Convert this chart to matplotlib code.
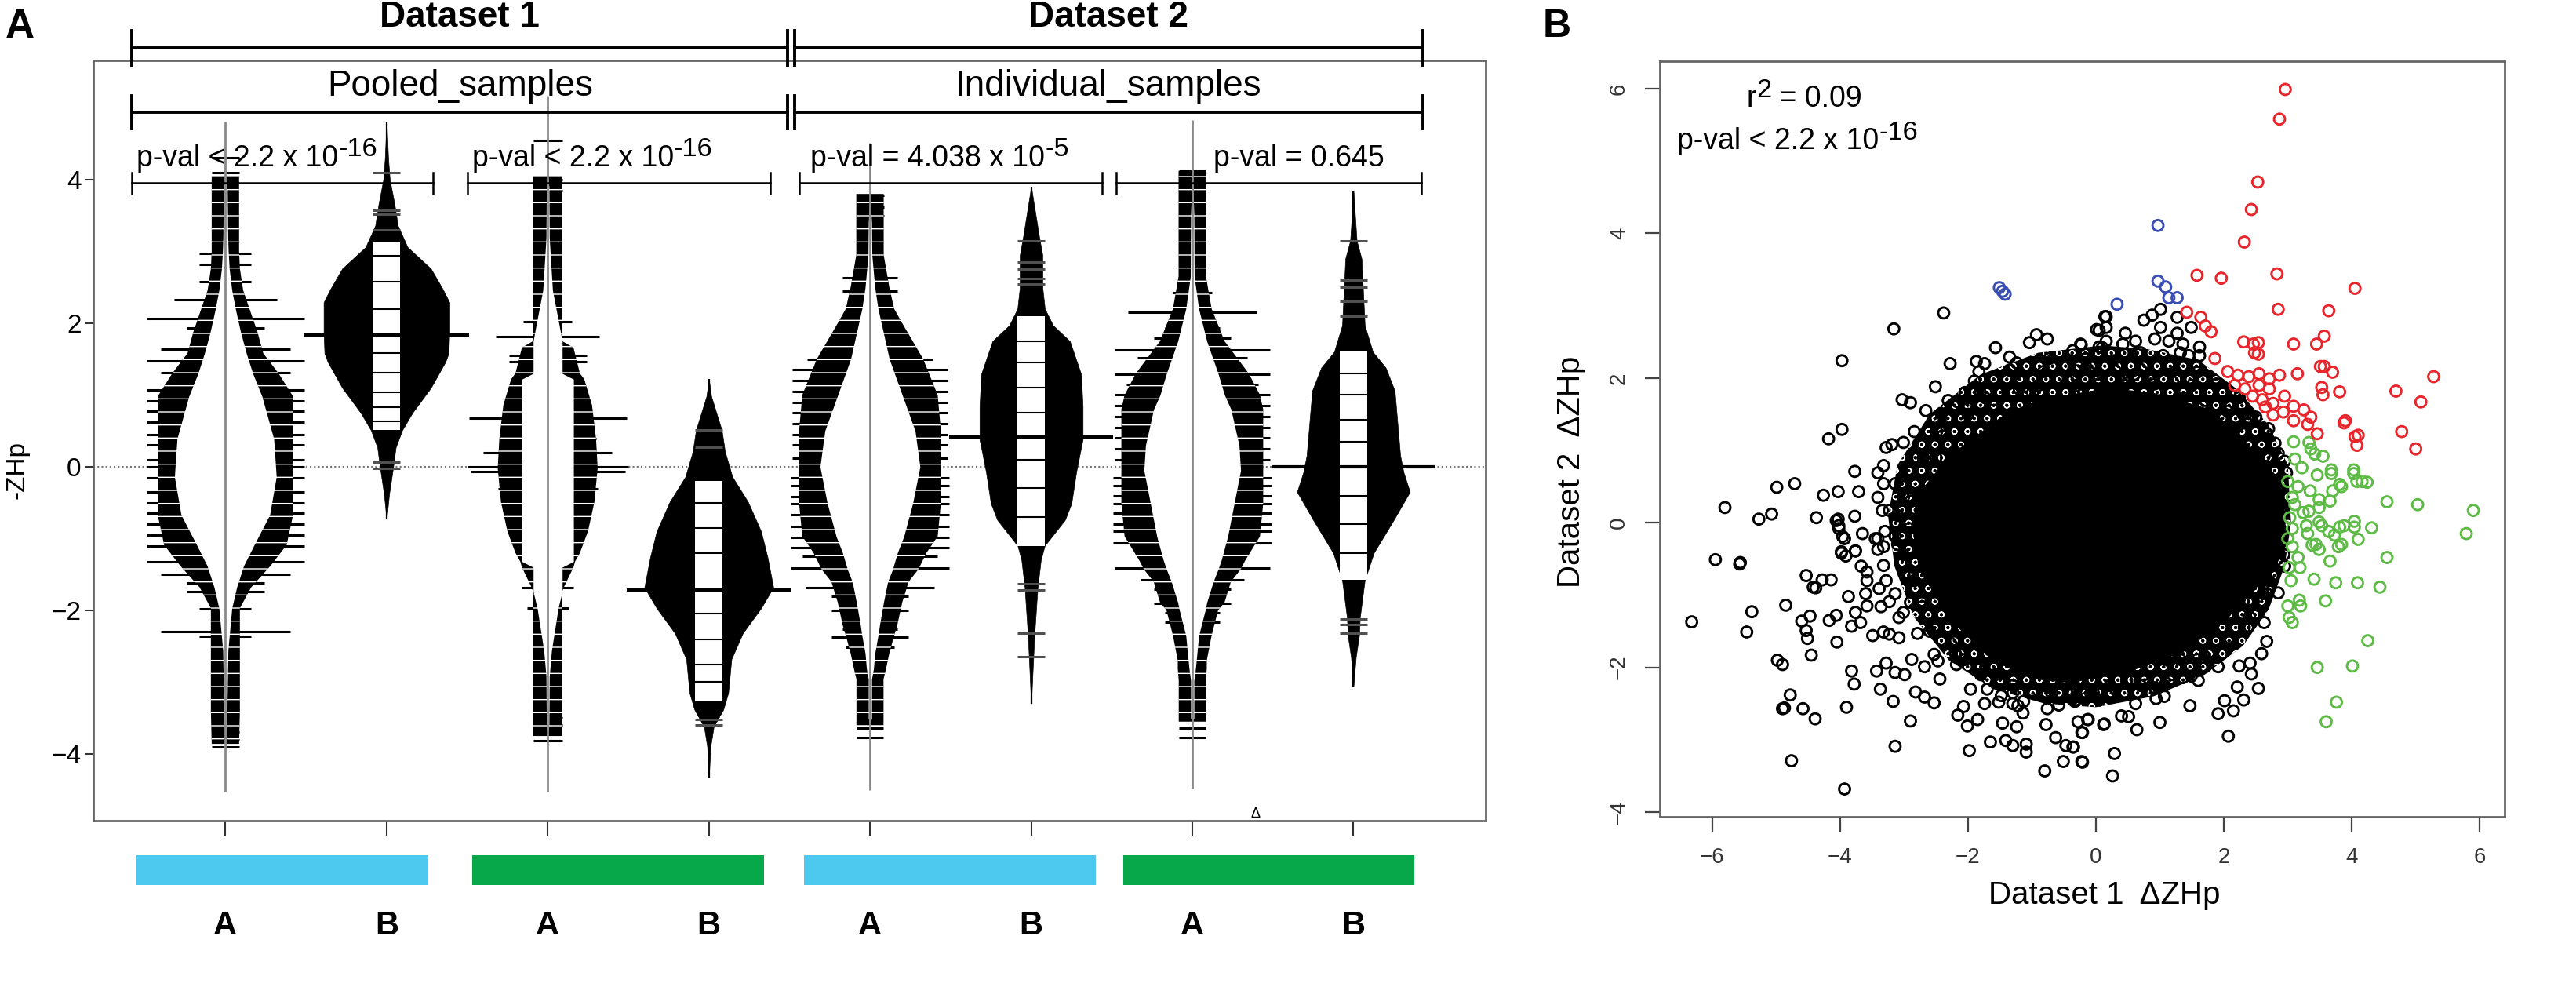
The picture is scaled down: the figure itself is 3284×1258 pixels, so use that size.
import numpy as np
import matplotlib
matplotlib.use("Agg")
import matplotlib.pyplot as plt
from matplotlib.patches import Rectangle, Polygon

plt.rcParams['font.family'] = ['Liberation Sans', 'DejaVu Sans']
plt.rcParams['hatch.color'] = 'white'
plt.rcParams['hatch.linewidth'] = 1.0

# ---------------- panel A data (beanplot) ----------------
bean_pos = [1, 2, 3, 4, 5, 6, 7, 8]
bean_labels = ['A', 'B', 'A', 'B', 'A', 'B', 'A', 'B']
bar_spans = [(0.45, 2.26), (2.53, 4.34), (4.59, 6.40), (6.57, 8.38)]
bar_colors = ['#4DC9F0', '#07A84A', '#4DC9F0', '#07A84A']
pval_base = ['p-val < 2.2 x 10', 'p-val < 2.2 x 10', 'p-val = 4.038 x 10', 'p-val = 0.645']
pval_sup = ['-16', '-16', '-5', '']
pval_x = [0.45, 2.53, 4.63, 7.13]
pval_brackets = [(0.42, 2.29), (2.50, 4.38), (4.56, 6.44), (6.53, 8.42)]
group_brackets = [(0.42, 4.49), (4.53, 8.43)]
dataset_names = ['Dataset 1', 'Dataset 2']
sample_names = ['Pooled_samples', 'Individual_samples']

# hollow "A" beans: y, inner white lens half width, outer black half width
a1_y = [4.05, 3.86, 3.2, 3.0, 2.76, 2.46, 2.17, 1.87, 1.58, 1.3, 0.98, 0.39, -0.14, -0.67, -1.09, -1.38, -1.68, -1.97, -2.56, -3.4, -3.86]
a1_lens = [0, 0.012, 0.015, 0.018, 0.024, 0.04, 0.065, 0.095, 0.13, 0.17, 0.227, 0.30, 0.316, 0.275, 0.178, 0.113, 0.07, 0.04, 0.016, 0.01, 0]
a1_outer = [0.085, 0.085, 0.085, 0.085, 0.09, 0.11, 0.154, 0.20, 0.235, 0.33, 0.42, 0.42, 0.42, 0.42, 0.38, 0.28, 0.16, 0.09, 0.09, 0.09, 0.085]
a1_range = (-4.52, 4.81)
a1_lines = [(4.3, 0.085), (4.1, 0.085), (2.97, 0.16), (2.82, 0.16), (2.58, 0.16), (2.33, 0.32), (2.06, 0.49),
            (1.93, 0.24), (1.64, 0.40), (1.47, 0.49), (1.31, 0.40), (1.07, 0.49), (0.92, 0.49), (0.78, 0.49),
            (0.62, 0.49), (0.45, 0.49), (0.3, 0.49), (0.1, 0.49), (0.0, 0.49), (-0.15, 0.49), (-0.35, 0.49),
            (-0.5, 0.49), (-0.65, 0.49), (-0.8, 0.49), (-0.95, 0.49), (-1.1, 0.49), (-1.32, 0.49), (-1.5, 0.40),
            (-1.62, 0.24), (-1.74, 0.24), (-1.98, 0.16), (-2.3, 0.40), (-2.36, 0.16), (-3.7, 0.085), (-3.8, 0.085),
            (-3.9, 0.085)]

a3_y = [4.05, 3.9, 3.2, 3.12, 2.46, 1.99, 1.75, 1.66, 1.3, 1.22, 0.86, 0.39, -0.02, -0.49, -0.9, -1.2, -1.32, -1.4, -1.68, -1.74, -1.97, -2.56, -2.92, -3.6, -3.75]
a3_lens = [0, 0.008, 0.01, 0.012, 0.03, 0.07, 0.09, 0.09, 0.09, 0.16, 0.16, 0.16, 0.16, 0.16, 0.16, 0.16, 0.16, 0.09, 0.09, 0.09, 0.065, 0.024, 0.01, 0.008, 0]
a3_outer = [0.09, 0.09, 0.09, 0.09, 0.09, 0.09, 0.09, 0.16, 0.2, 0.227, 0.275, 0.30, 0.31, 0.29, 0.25, 0.2, 0.17, 0.16, 0.1, 0.09, 0.09, 0.09, 0.09, 0.09, 0.09]
a3_range = (-4.52, 5.17)
a3_lines = [(4.55, 0.09), (4.0, 0.09), (3.85, 0.09), (2.02, 0.15), (1.81, 0.32), (1.55, 0.24), (1.46, 0.24),
            (0.68, 0.49), (0.39, 0.30), (0.2, 0.40), (0.0, 0.50), (-0.07, 0.48), (-0.31, 0.31), (-0.9, 0.24),
            (-1.08, 0.21), (-1.68, 0.16), (-1.97, 0.13), (-3.5, 0.09), (-3.6, 0.09), (-3.82, 0.09)]

a5_y = [3.8, 3.4, 2.95, 2.5, 2.2, 2.0, 1.5, 1.0, 0.5, 0.0, -0.51, -0.97, -1.2, -1.43, -1.6, -1.89, -2.2, -2.35, -2.6, -2.81, -2.96, -3.5, -3.6]
a5_lens = [0, 0.01, 0.012, 0.03, 0.05, 0.07, 0.12, 0.2, 0.28, 0.31, 0.265, 0.21, 0.17, 0.14, 0.11, 0.084, 0.06, 0.05, 0.03, 0.022, 0.01, 0.01, 0]
a5_outer = [0.085, 0.085, 0.085, 0.12, 0.15, 0.2, 0.33, 0.42, 0.44, 0.44, 0.44, 0.42, 0.35, 0.3, 0.24, 0.2, 0.17, 0.15, 0.12, 0.1, 0.084, 0.084, 0.084]
a5_range = (-4.5, 4.51)
a5_lines = [(3.78, 0.085), (3.62, 0.085), (3.5, 0.085), (2.63, 0.17), (2.45, 0.17), (2.15, 0.15), (1.97, 0.17),
            (1.66, 0.24), (1.5, 0.39), (1.35, 0.48), (1.2, 0.48), (1.05, 0.48), (0.9, 0.48), (0.75, 0.48),
            (0.6, 0.48), (0.45, 0.48), (0.3, 0.48), (0.12, 0.48), (-0.15, 0.49), (-0.26, 0.49), (-0.42, 0.49),
            (-0.51, 0.49), (-0.67, 0.49), (-0.83, 0.49), (-0.99, 0.49), (-1.13, 0.49), (-1.25, 0.42), (-1.41, 0.49),
            (-1.57, 0.24), (-1.68, 0.40), (-1.8, 0.24), (-2.0, 0.24), (-2.26, 0.17), (-2.37, 0.24), (-2.51, 0.15),
            (-3.64, 0.084), (-3.77, 0.084)]

a7_y = [4.12, 3.51, 2.65, 2.2, 1.75, 1.3, 1.0, 0.8, 0.3, -0.05, -0.51, -0.97, -1.3, -1.43, -1.6, -1.89, -2.0, -2.35, -2.7, -2.81, -2.98, -3.5, -3.55]
a7_lens = [0, 0.01, 0.012, 0.04, 0.09, 0.16, 0.2, 0.24, 0.29, 0.30, 0.26, 0.22, 0.18, 0.16, 0.13, 0.09, 0.08, 0.04, 0.025, 0.02, 0.01, 0.01, 0]
a7_outer = [0.085, 0.085, 0.085, 0.12, 0.2, 0.35, 0.42, 0.44, 0.44, 0.44, 0.44, 0.42, 0.33, 0.3, 0.24, 0.2, 0.16, 0.12, 0.09, 0.09, 0.084, 0.084, 0.084]
a7_range = (-4.48, 4.83)
a7_lines = [(4.12, 0.085), (4.03, 0.085), (3.92, 0.085), (3.78, 0.085), (3.62, 0.085), (2.65, 0.085), (2.43, 0.12),
            (2.15, 0.40), (1.93, 0.17), (1.79, 0.24), (1.63, 0.48), (1.52, 0.34), (1.29, 0.48), (1.15, 0.41),
            (1.0, 0.48), (0.85, 0.48), (0.7, 0.48), (0.55, 0.48), (0.4, 0.48), (0.25, 0.48), (0.1, 0.48),
            (-0.15, 0.49), (-0.26, 0.49), (-0.4, 0.49), (-0.51, 0.49), (-0.65, 0.49), (-0.8, 0.49), (-0.9, 0.49),
            (-1.06, 0.49), (-1.25, 0.31), (-1.41, 0.48), (-1.57, 0.32), (-1.71, 0.24), (-1.9, 0.24), (-2.03, 0.17),
            (-2.17, 0.17), (-3.64, 0.084), (-3.77, 0.084)]

# solid "B" beans: y, half width, median, white beanline column, extra ticks
b2_y = [4.81, 4.3, 4.0, 3.65, 3.36, 3.06, 2.76, 2.47, 2.29, 1.87, 1.58, 1.46, 1.1, 0.75, 0.51, 0.27, -0.02, -0.38, -0.73]
b2_hw = [0.0, 0.01, 0.02, 0.05, 0.07, 0.13, 0.275, 0.35, 0.39, 0.39, 0.385, 0.365, 0.275, 0.16, 0.097, 0.057, 0.04, 0.016, 0.0]
b2_med = 1.84
b2_col = (0.51, 3.12)
b2_gaps = [2.94, 2.58, 2.2, 1.58, 1.31, 1.04, 0.83, 0.63]
b2_ticks = [4.1, 3.57, 3.52, 3.3, 0.07, -0.02]

b4_y = [1.22, 0.98, 0.51, 0.21, -0.14, -0.49, -0.9, -1.27, -1.68, -1.97, -2.32, -2.68, -3.15, -3.38, -3.62, -3.9, -4.33]
b4_hw = [0, 0.015, 0.08, 0.10, 0.146, 0.243, 0.324, 0.365, 0.40, 0.324, 0.21, 0.14, 0.12, 0.09, 0.03, 0.01, 0]
b4_med = -1.72
b4_col = (-3.27, -0.2)
b4_gaps = [-0.5, -0.85, -1.2, -2.05, -2.4, -2.75, -3.0]
b4_ticks = [0.51, 0.27, -3.52, -3.6]

b6_y = [3.9, 3.2, 2.95, 2.5, 2.2, 1.97, 1.75, 1.29, 0.84, 0.38, -0.07, -0.51, -0.74, -1.1, -1.3, -1.68, -2.35, -3.3]
b6_hw = [0, 0.05, 0.07, 0.07, 0.085, 0.136, 0.24, 0.31, 0.32, 0.32, 0.28, 0.25, 0.21, 0.084, 0.06, 0.04, 0.02, 0]
b6_med = 0.41
b6_col = (-1.1, 2.1)
b6_gaps = [1.75, 1.45, 1.1, 0.75, 0.1, -0.3, -0.7]
b6_ticks = [3.15, 2.85, 2.75, 2.62, 2.55, -1.63, -1.72, -2.32, -2.65]

b8_y = [3.85, 3.15, 2.9, 1.97, 1.6, 1.38, 1.06, 0.61, 0.16, -0.07, -0.35, -0.74, -1.2, -1.58, -2.1, -2.35, -2.65, -3.06]
b8_hw = [0, 0.02, 0.05, 0.07, 0.12, 0.2, 0.256, 0.273, 0.29, 0.31, 0.35, 0.25, 0.126, 0.07, 0.04, 0.035, 0.015, 0]
b8_med = 0.0
b8_col = (-1.58, 1.6)
b8_gaps = [1.3, 1.0, 0.65, 0.35, -0.4, -0.8, -1.2]
b8_ticks = [3.15, 2.6, 2.5, 2.3, 2.1, -2.12, -2.2, -2.32]

# ---------------- panel B data (scatter) ----------------
# outline of the fully inked core and of the dense, speckled ring around it
core_x = [0.2, 0.9, 1.8, 2.45, 2.9, 2.95, 2.9, 2.45, 2.0, 1.35, 0.5, -0.4, -0.95, -1.6, -2.25, -2.75, -2.85, -2.8, -2.3, -1.4, -0.9]
core_y = [1.85, 1.78, 1.55, 1.0, 0.55, 0.0, -0.4, -0.95, -1.35, -1.78, -2.05, -2.2, -2.15, -1.9, -1.35, -0.65, -0.1, 0.35, 0.9, 1.5, 1.68]
ring_x = [0.1, 0.8, 1.6, 2.2, 2.7, 3.0, 3.05, 2.95, 2.7, 2.3, 1.7, 0.9, 0.0, -0.8, -1.6, -2.3, -2.85, -3.15, -3.25, -3.1, -2.6, -1.8, -0.9]
ring_y = [2.45, 2.4, 2.25, 1.85, 1.35, 0.8, 0.0, -0.6, -1.2, -1.7, -2.1, -2.4, -2.55, -2.5, -2.3, -1.9, -1.3, -0.6, 0.1, 0.8, 1.5, 2.05, 2.35]

black_pts = [
    (-2.38, 2.90), (-3.16, 2.68), (-3.97, 2.24), (-2.28, 2.20), (-2.51, 1.88), (-3.03, 1.70), (-2.90, 1.66),
    (-3.97, 1.29), (-4.18, 1.16), (-1.57, 2.42), (-1.35, 2.29), (-1.24, 2.21), (-0.93, 2.60), (-0.76, 2.54),
    (-1.04, 2.49), (-0.23, 2.46), (-0.36, 2.38), (0.14, 2.85), (0.01, 2.67), (-1.87, 2.23), (-1.74, 2.20),
    (-1.83, 2.09), (-1.90, 1.96), (-1.81, 1.80), (-1.94, 1.80), (-1.54, 1.80), (-1.41, 1.98), (-1.35, 2.11),
    (-2.31, 1.69), (-2.16, 1.67), (-2.66, 1.55), (-2.42, 1.51), (-3.28, 1.04), (-3.19, 1.08), (-2.84, 1.26),
    (-3.01, 1.11), (-3.77, 0.71), (-3.41, 0.69), (-4.99, 0.49), (-4.71, 0.54), (-4.26, 0.38), (-4.03, 0.43),
    (-3.71, 0.43), (-5.80, 0.21), (-5.27, 0.05), (-5.07, 0.12), (-4.37, 0.07), (-3.77, 0.09), (-4.03, 0.05),
    (-4.02, -0.04), (-3.65, -0.15), (-3.93, -0.22), (-3.41, -0.22), (-3.30, -0.12), (-3.34, 0.17), (-3.41, 0.35),
    (-3.32, 0.54), (-3.76, -0.39), (-3.98, -0.42), (-5.95, -0.51), (-5.56, -0.55),
    (-4.53, -0.73), (-4.28, -0.79), (-4.14, -0.79), (-4.42, -0.89), (-5.38, -1.23), (-4.85, -1.14),
    (-6.32, -1.37), (-5.46, -1.51), (-4.60, -1.36), (-4.47, -1.29), (-4.53, -1.49), (-4.51, -1.60),
    (-4.17, -1.35), (-4.06, -1.28), (-4.05, -1.65), (-4.45, -1.83), (-4.98, -1.90), (-4.90, -1.96),
    (-3.87, -1.02), (-3.76, -1.24), (-3.82, -1.43), (-3.68, -1.38), (-3.82, -2.05), (-3.78, -2.23),
    (-4.78, -2.38), (-4.90, -2.57), (-4.58, -2.57), (-4.39, -2.71), (-3.90, -2.55), (-4.76, -3.29),
    (-3.93, -3.68), (-3.49, -1.56), (-3.32, -1.51), (-3.23, -1.54), (-3.08, -1.59), (-3.43, -2.05),
    (-3.28, -1.94), (-3.14, -2.07), (-2.99, -2.10), (-2.88, -1.89), (-3.37, -2.30), (-3.17, -2.47),
    (-2.82, -2.34), (-2.68, -2.41), (-2.53, -2.49), (-2.90, -2.74), (-3.14, -3.09), (-2.68, -1.99),
    (-2.47, -1.91), (-2.44, -2.16), (-2.16, -2.66), (-2.07, -2.54), (-2.01, -2.81), (-1.85, -2.72),
    (-1.96, -2.30), (-1.70, -2.30), (-1.52, -2.21), (-1.74, -2.50), (-1.52, -2.48), (-1.30, -2.50),
    (-1.22, -2.53), (-1.14, -2.63), (-1.98, -3.15), (-1.65, -3.03), (-1.46, -2.77), (-1.24, -2.82),
    (-1.41, -3.01), (-1.30, -3.08), (-1.09, -3.06), (-1.09, -3.17), (-0.78, -2.79), (-0.80, -3.43),
    (-0.63, -2.97), (-0.47, -3.08), (-0.36, -3.10), (-0.51, -3.30), (-0.21, -3.31), (-0.76, -2.57),
    (-0.58, -2.52), (-0.21, -2.90), (-0.12, -2.72), (0.12, -2.79), (-0.32, -2.45), (0.05, -2.45),
    (-3.58, -0.80), (-3.60, -0.98), (-3.58, -1.15), (-3.39, -0.91), (-3.36, -1.16), (-3.23, -1.09),
    (-3.08, -1.31), (-4.06, 0.03), (-4.02, -0.08), (-3.96, -0.19), (-3.98, -0.40), (-3.91, -0.46),
    (-3.76, -0.39), (-3.45, -0.22), (-3.32, -0.33), (-3.67, -0.60), (-3.58, -0.68), (-3.32, -0.59),
    (-3.28, -0.80), (-5.57, -0.57), (-4.87, -2.56), (-4.38, -0.90),
    (2.85, -0.97), (2.61, -0.98), (2.63, -1.38), (2.67, -1.64), (2.59, -1.81), (2.24, -1.98), (2.41, -1.94),
    (2.43, -2.09), (2.54, -2.29), (2.21, -2.27), (2.31, -2.45), (2.01, -2.46), (2.15, -2.60), (1.91, -2.64),
    (2.07, -2.95), (1.47, -2.53), (1.91, -1.99), (1.49, -1.98), (1.49, -2.12), (1.60, -2.18), (1.00, -2.76),
    (1.07, -2.25), (1.07, -2.40), (0.94, -2.43), (0.62, -2.50), (0.64, -2.86), (0.40, -2.67), (0.51, -2.68),
    (0.13, -2.78), (0.29, -3.19), (0.26, -3.50), (-0.22, -3.30), (-0.35, -3.10), (-0.13, -2.72),
    (-0.22, -2.90), (-0.28, -2.75), (0.05, -2.45), (-0.33, -2.47),
    (1.01, 2.95), (0.16, 2.85), (0.88, 2.87), (0.75, 2.80), (1.27, 2.84), (0.05, 2.66), (0.16, 2.70),
    (0.46, 2.62), (-0.24, 2.47), (0.05, 2.43), (0.16, 2.51), (0.42, 2.47), (1.01, 2.70), (1.27, 2.62),
    (1.49, 2.70), (0.92, 2.54), (1.14, 2.51), (1.36, 2.47), (1.62, 2.43), (0.70, 2.35), (1.05, 2.31),
    (1.32, 2.35), (1.62, 2.31),
    (-0.6, 2.0), (-0.3, 2.1), (0.0, 2.2), (0.3, 2.1), (0.6, 2.05), (0.9, 2.0), (1.2, 1.95), (1.5, 1.9),
    (1.8, 1.8), (2.1, 1.6), (-0.9, 1.9), (-1.2, 1.85), (-1.6, 1.7), (-2.0, 1.5), (-2.4, 1.2), (-2.7, 0.9),
    (-3.0, 0.5), (-3.1, 0.1), (-3.1, -0.3), (-3.0, -0.7), (-2.9, -1.1), (-2.6, -1.5), (-2.2, -1.8),
    (-1.8, -2.1), (-1.3, -2.35), (-0.8, -2.4), (-0.3, -2.4), (0.2, -2.35), (0.7, -2.25), (1.2, -2.1),
    (1.7, -1.85), (2.1, -1.6), (2.4, -1.3), (2.7, -0.8), (2.95, -0.6), (2.7, 1.3), (2.3, 1.5), (0.0, 1.95),
    (0.4, 1.95), (-0.3, 1.9), (-1.8, 1.65), (-2.5, 0.9), (-2.9, 0.3), (2.95, 0.85), (2.8, 1.1),
    (-3.32, 0.79), (-3.14, 0.54), (-3.23, 0.17), (-3.01, 0.35), (-2.88, 0.72), (-2.71, 1.08), (-2.49, 1.26),
    (-2.27, 1.44), (-2.00, 1.58), (-1.74, 1.73), (-1.48, 1.80), (-1.17, 1.95), (-0.82, 2.09), (-0.51, 2.16),
    (-0.16, 2.27), (0.10, 2.42), (-3.14, -0.19), (-3.41, -0.37), (-2.79, 0.90), (-2.57, 0.90), (-2.05, 1.80),
    (-0.99, 1.80), (-0.73, 2.27), (-0.43, 1.95),
    (-0.17, 2.12), (0.26, 2.24), (0.70, 2.12), (1.14, 2.20), (1.58, 2.08), (1.89, 1.92), (2.24, 1.73),
    (2.50, 1.46), (2.67, 1.23), (2.85, 0.96), (2.98, 0.69), (0.05, 1.92), (0.48, 2.00), (0.92, 1.92),
    (1.36, 1.85), (1.71, 1.69), (2.06, 1.54), (2.32, 1.23), (2.63, 0.92), (0.62, 2.51), (1.45, 2.31),
    (2.94, -0.44), (2.76, -0.73), (2.67, -0.98), (2.50, -1.27), (2.32, -1.45), (2.06, -1.60), (1.80, -1.78),
    (1.58, -1.89), (1.32, -1.89), (1.05, -2.03), (0.75, -2.10), (0.48, -2.18), (0.22, -2.25), (-0.04, -2.36),
    (-0.31, -2.28), (0.92, -2.28), (1.36, -2.14), (1.71, -1.99), (1.97, -1.81), (2.15, -1.31), (2.46, -1.09),
    (-2.84, -0.80), (-2.71, -1.16), (-2.49, -1.42), (-2.27, -1.67), (-2.05, -1.89), (-1.83, -2.03),
    (-1.57, -2.10), (-1.30, -2.25), (-1.00, -2.32), (-0.69, -2.36), (-0.38, -2.32), (-0.08, -2.36),
    (-2.79, -1.53), (-2.53, -1.82), (-2.18, -1.96), (-1.48, -2.39), (-1.13, -2.47), (-3.01, -0.44),
    (-2.92, -0.08), (-3.14, -0.98), (-3.01, -1.24)]

red_pts = [
    (2.96, 5.99), (2.87, 5.58), (2.53, 4.71), (2.43, 4.33), (2.32, 3.88), (1.58, 3.42), (1.96, 3.38),
    (2.83, 3.44), (4.05, 3.24), (2.85, 2.95), (3.64, 2.93), (1.42, 2.91), (1.64, 2.84), (1.71, 2.72),
    (1.80, 2.64), (2.31, 2.50), (2.46, 2.47), (2.54, 2.49), (2.48, 2.35), (2.54, 2.33), (3.09, 2.47),
    (3.45, 2.47), (3.57, 2.58), (1.86, 2.27), (3.51, 2.16), (3.57, 2.16), (3.70, 2.08), (3.15, 2.06),
    (5.28, 2.02), (2.06, 2.09), (2.22, 2.04), (2.39, 2.02), (2.55, 2.06), (2.71, 1.99), (2.87, 2.04),
    (2.17, 1.90), (2.33, 1.85), (2.55, 1.90), (2.71, 1.85), (3.53, 1.87), (3.55, 1.77), (3.81, 1.81),
    (4.69, 1.82), (5.08, 1.67), (2.60, 1.70), (2.77, 1.65), (3.09, 1.61), (3.25, 1.56), (2.93, 1.53),
    (3.36, 1.46), (3.09, 1.41), (3.31, 1.36), (2.77, 1.49), (3.88, 1.38), (3.90, 1.41), (4.78, 1.26),
    (3.46, 1.23), (4.05, 1.19), (4.08, 1.07), (4.10, 1.21), (5.00, 1.02), (2.45, 1.75), (2.65, 1.60),
    (2.95, 1.75)]

green_pts = [
    (5.90, 0.17), (5.79, -0.15), (4.55, 0.29), (5.03, 0.25), (4.55, -0.48), (4.31, -0.07), (4.44, -0.89),
    (4.09, -0.83), (3.75, -0.83), (3.41, -0.78), (3.59, -1.08), (3.66, -0.53), (4.10, -0.23), (4.04, 0.02),
    (4.04, -0.06), (3.81, -0.06), (3.88, -0.04), (3.79, -0.33), (3.84, -0.30), (3.49, -0.37), (3.38, -0.31),
    (3.44, -0.30), (3.49, 0.01), (3.53, -0.04), (3.64, -0.12), (3.73, -0.17), (3.29, -0.04), (3.33, 0.16),
    (3.49, 0.21), (3.49, 0.32), (3.35, 0.44), (3.66, 0.30), (3.70, 0.44), (3.84, 0.50), (4.08, 0.57),
    (4.24, 0.56), (4.03, 0.68), (3.68, 0.68), (3.46, 0.66), (4.25, -1.63), (4.01, -1.98), (3.46, -2.00),
    (3.76, -2.48), (3.60, -2.75), (3.00, -1.15), (3.20, -1.15), (3.18, -1.07), (3.02, -1.31), (3.07, -1.38),
    (3.05, -0.80), (3.02, -0.62), (3.16, -0.48), (3.19, -0.62), (3.00, 0.57), (3.07, 0.35), (3.11, 0.25),
    (3.03, 0.07), (3.07, -0.08), (3.00, -0.22), (3.16, 0.50), (3.24, 0.14), (3.31, -0.15), (3.07, -0.33),
    (3.33, 1.11), (3.42, 0.95), (3.55, 0.92), (3.11, 0.88), (3.22, 0.76), (3.68, 0.73), (4.03, 0.73),
    (4.16, 0.57), (3.81, 0.53), (3.09, 1.12), (3.36, 1.02)]

blue_pts = [(0.97, 4.11), (0.97, 3.34), (1.09, 3.26), (1.14, 3.11), (1.27, 3.11), (0.33, 3.02),
            (-1.51, 3.25), (-1.46, 3.20), (-1.42, 3.16)]

# ---------------- helpers ----------------
def hollow_bean(ax, xc, ys, lens, outer, lines, rng):
    ys = np.array(ys)
    lens = np.array(lens)
    outer = np.array(outer)
    ly = [l[0] for l in lines]
    lh = np.array([l[1] for l in lines])
    ax.hlines(ly, xc - lh, xc + lh, color='black', lw=2.2, zorder=2)
    ax.fill_betweenx(ys, xc - outer, xc + outer, facecolor='black', edgecolor='white',
                     hatch='-', lw=0, zorder=3)
    ax.fill_betweenx(ys, xc - lens, xc + lens, color='white', lw=0, zorder=4)
    ax.vlines(xc, rng[0], rng[1], color='#8a8a8a', lw=2, zorder=5)


def solid_bean(ax, xc, ys, hw, med, col, gaps, ticks):
    ys = np.array(ys)
    hw = np.array(hw)
    ax.vlines(xc, ys.min(), ys.max(), color='black', lw=1.6, zorder=3)
    ax.fill_betweenx(ys, xc - hw, xc + hw, color='black', lw=0.5, zorder=3)
    ax.hlines(ticks, xc - 0.085, xc + 0.085, color='#505050', lw=2.2, zorder=4)
    ax.add_patch(Rectangle((xc - 0.085, col[0]), 0.17, col[1] - col[0],
                           facecolor='white', lw=0, zorder=4))
    ax.hlines(gaps, xc - 0.085, xc + 0.085, color='black', lw=1.5, zorder=5)
    ax.hlines(med, xc - 0.51, xc + 0.51, color='black', lw=3, zorder=6)


def bracket(ax, x0, x1, y, half, lw):
    ax.plot([x0, x1], [y, y], color='black', lw=lw, clip_on=False, zorder=7)
    ax.plot([x0, x0], [y - half, y + half], color='black', lw=lw, clip_on=False, zorder=7)
    ax.plot([x1, x1], [y - half, y + half], color='black', lw=lw, clip_on=False, zorder=7)


def sup_text(ax, x, y, base, sup, fs, tail=''):
    # R-style "10^-16": the exponent is set almost at full size, raised
    t = ax.text(x, y, base, ha='left', va='baseline', fontsize=fs, zorder=8)
    if sup:
        s = ax.annotate(sup, xy=(1.0, 0.56), xycoords=t, ha='left', va='baseline',
                        fontsize=fs * 0.92, zorder=8)
        if tail:
            ax.annotate(tail, xy=(1.0, 0.0), xycoords=(s, t), ha='left', va='bottom',
                        fontsize=fs, zorder=8)
    return t


# ---------------- figure ----------------
fig = plt.figure(figsize=(32.84, 12.58), dpi=100)

ax1 = fig.add_axes([0.0362, 0.1685, 0.5405, 0.7703])
ax1.set_xlim(0.18, 8.82)
ax1.set_ylim(-4.93, 5.66)
ax1.axhline(0, color='#777777', lw=1.5, ls=(0, (1, 1.5)), zorder=1)

hollow_bean(ax1, 1, a1_y, a1_lens, a1_outer, a1_lines, a1_range)
hollow_bean(ax1, 3, a3_y, a3_lens, a3_outer, a3_lines, a3_range)
hollow_bean(ax1, 5, a5_y, a5_lens, a5_outer, a5_lines, a5_range)
hollow_bean(ax1, 7, a7_y, a7_lens, a7_outer, a7_lines, a7_range)
solid_bean(ax1, 2, b2_y, b2_hw, b2_med, b2_col, b2_gaps, b2_ticks)
solid_bean(ax1, 4, b4_y, b4_hw, b4_med, b4_col, b4_gaps, b4_ticks)
solid_bean(ax1, 6, b6_y, b6_hw, b6_med, b6_col, b6_gaps, b6_ticks)
solid_bean(ax1, 8, b8_y, b8_hw, b8_med, b8_col, b8_gaps, b8_ticks)

ax1.set_xticks(bean_pos)
ax1.set_xticklabels([])
ax1.set_yticks([-4, -2, 0, 2, 4])
ax1.tick_params(axis='x', length=14, width=1.5, color='#333333')
ax1.tick_params(axis='y', length=8, width=1.5, color='#333333', labelsize=24, pad=3)
for s in ax1.spines.values():
    s.set_color('#666666')
    s.set_linewidth(2)

# top brackets and annotations
for (x0, x1), name in zip(group_brackets, dataset_names):
    bracket(ax1, x0, x1, 5.83, 0.25, 2.8)
    ax1.text((x0 + x1) / 2, 6.26, name, ha='center', va='center', fontsize=33,
             fontweight='bold', clip_on=False)
for (x0, x1), name in zip(group_brackets, sample_names):
    bracket(ax1, x0, x1, 4.94, 0.23, 2.8)
    ax1.text((x0 + x1) / 2, 5.30, name, ha='center', va='center', fontsize=33)
for (x0, x1), base, sup, tx in zip(pval_brackets, pval_base, pval_sup, pval_x):
    bracket(ax1, x0, x1, 3.95, 0.15, 1.8)
    sup_text(ax1, tx, 4.19, base, sup, 27)

# coloured group bars and A/B labels under the axis
for (x0, x1), c in zip(bar_spans, bar_colors):
    ax1.add_patch(Rectangle((x0, -5.83), x1 - x0, 0.42, facecolor=c, edgecolor='none',
                            clip_on=False))
for xp, lab in zip(bean_pos, bean_labels):
    ax1.text(xp, -6.39, lab, ha='center', va='center', fontsize=30, fontweight='bold',
             clip_on=False)
ax1.text(7.39, -4.84, '\u0394', ha='center', va='center', fontsize=13)
fig.text(0.0067, 0.524, '-ZHp', rotation=90, ha='center', va='center', fontsize=24)
fig.text(0.002, 0.992, 'A', ha='left', va='top', fontsize=37, fontweight='bold')

# ---------------- panel B ----------------
ax2 = fig.add_axes([0.6443, 0.1728, 0.328, 0.7652])
ax2.set_xlim(-6.82, 6.39)
ax2.set_ylim(-4.06, 6.38)
ax2.add_patch(Polygon(np.column_stack([ring_x, ring_y]), closed=True, facecolor='black',
                      edgecolor='white', hatch='o', lw=0, zorder=2))
ax2.add_patch(Polygon(np.column_stack([core_x, core_y]), closed=True, facecolor='black',
                      edgecolor='black', lw=2, zorder=2))

mk = dict(s=100, facecolors='none', linewidths=2.1, zorder=3)
bp = np.array(black_pts)
ax2.scatter(bp[:, 0], bp[:, 1], edgecolors='black', **mk)
gp = np.array(green_pts)
ax2.scatter(gp[:, 0], gp[:, 1], edgecolors='#5DBB46', **mk)
rp = np.array(red_pts)
ax2.scatter(rp[:, 0], rp[:, 1], edgecolors='#E8252B', **mk)
bl = np.array(blue_pts)
ax2.scatter(bl[:, 0], bl[:, 1], edgecolors='#3A4DB3', **mk)

ax2.set_xticks([-6, -4, -2, 0, 2, 4, 6])
ax2.set_yticks([-4, -2, 0, 2, 4, 6])
ax2.tick_params(length=14, width=1.6, color='#444444', labelsize=20, labelcolor='#333333', pad=14)
for lab in ax2.get_yticklabels():
    lab.set_rotation(90)
    lab.set_va('center')
for s in ax2.spines.values():
    s.set_color('#666666')
    s.set_linewidth(2)

sup_text(ax2, -5.46, 5.75, 'r', '2', 27, tail=' = 0.09')
sup_text(ax2, -6.55, 5.16, 'p-val < 2.2 x 10', '-16', 27)
fig.text(0.817, 0.093, 'Dataset 1  \u0394ZHp', ha='center', va='center', fontsize=29)
fig.text(0.6099, 0.522, 'Dataset 2  \u0394ZHp', rotation=90, ha='center', va='center', fontsize=29)
fig.text(0.5987, 0.991, 'B', ha='left', va='top', fontsize=36, fontweight='bold')

fig.savefig('out.png', dpi=100)
